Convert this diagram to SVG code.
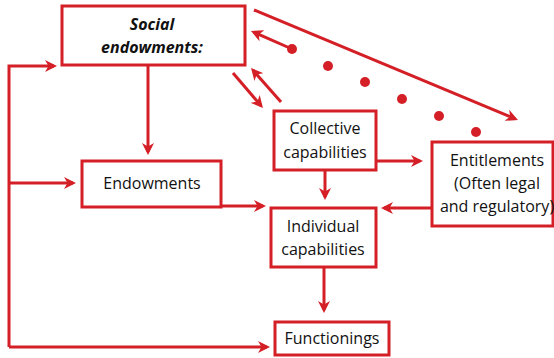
<svg xmlns="http://www.w3.org/2000/svg" width="554" height="358" viewBox="0 0 554 358">
<style>
.box{fill:#fff;stroke:#d41f27;stroke-width:3}
.ln{fill:none;stroke:#d41f27;stroke-width:3}
.t{font-family:"Open Sans","Noto Sans",sans-serif;font-size:16px;fill:#111;text-anchor:middle}
.b{font-weight:bold;font-style:italic}
.dot{fill:#d41f27}
</style>
<defs>
<marker id="ah" viewBox="0 0 12 12" refX="9" refY="6" markerWidth="12" markerHeight="12" markerUnits="userSpaceOnUse" orient="auto">
<path d="M0,0 L12,6 L0,12 L3.5,6 z" fill="#d41f27"/>
</marker>
</defs>
<g id="connectors">
<path class="ln" d="M9,347 V66 H54" marker-end="url(#ah)"/>
<path class="ln" d="M9,183 H73" marker-end="url(#ah)"/>
<path class="ln" d="M9,347 H267" marker-end="url(#ah)"/>
<path class="ln" d="M148,66 V152" marker-end="url(#ah)"/>
<path class="ln" d="M221,206 H263" marker-end="url(#ah)"/>
<path class="ln" d="M254,10 L515.2,118.8" marker-end="url(#ah)"/>
<path class="ln" d="M292,49 L253.7,32.2" marker-end="url(#ah)"/>
<path class="ln" d="M233,73 L261,105.7" marker-end="url(#ah)"/>
<path class="ln" d="M281,102 L253,70.3" marker-end="url(#ah)"/>
<path class="ln" d="M376,161 H420" marker-end="url(#ah)"/>
<path class="ln" d="M325,170 V197" marker-end="url(#ah)"/>
<path class="ln" d="M432,208 H384" marker-end="url(#ah)"/>
<path class="ln" d="M324,267 V310" marker-end="url(#ah)"/>
<circle class="dot" cx="292" cy="49" r="5"/>
<circle class="dot" cx="328" cy="66" r="5"/>
<circle class="dot" cx="365" cy="82" r="5"/>
<circle class="dot" cx="402" cy="99" r="5"/>
<circle class="dot" cx="439" cy="116" r="5"/>
<circle class="dot" cx="476" cy="132" r="5"/>
</g>
<g id="social">
<rect class="box" x="62" y="6" width="183" height="59"/>
<text class="t b" x="152" y="30">Social</text>
<text class="t b" x="152" y="53">endowments:</text>
</g>
<g id="endowments">
<rect class="box" x="82" y="161" width="139" height="46"/>
<text class="t" x="152" y="189">Endowments</text>
</g>
<g id="collective">
<rect class="box" x="274" y="111" width="102" height="59"/>
<text class="t" x="325" y="134">Collective</text>
<text class="t" x="325" y="158">capabilities</text>
</g>
<g id="entitlements">
<rect class="box" x="432" y="142" width="121" height="84"/>
<text class="t" x="497" y="166">Entitlements</text>
<text class="t" x="497" y="189">(Often legal</text>
<text class="t" x="497" y="212">and regulatory)</text>
</g>
<g id="individual">
<rect class="box" x="271" y="208" width="105" height="59"/>
<text class="t" x="323" y="232">Individual</text>
<text class="t" x="323" y="255">capabilities</text>
</g>
<g id="functionings">
<rect class="box" x="275" y="322" width="114" height="33"/>
<text class="t" x="332" y="344">Functionings</text>
</g>
</svg>
